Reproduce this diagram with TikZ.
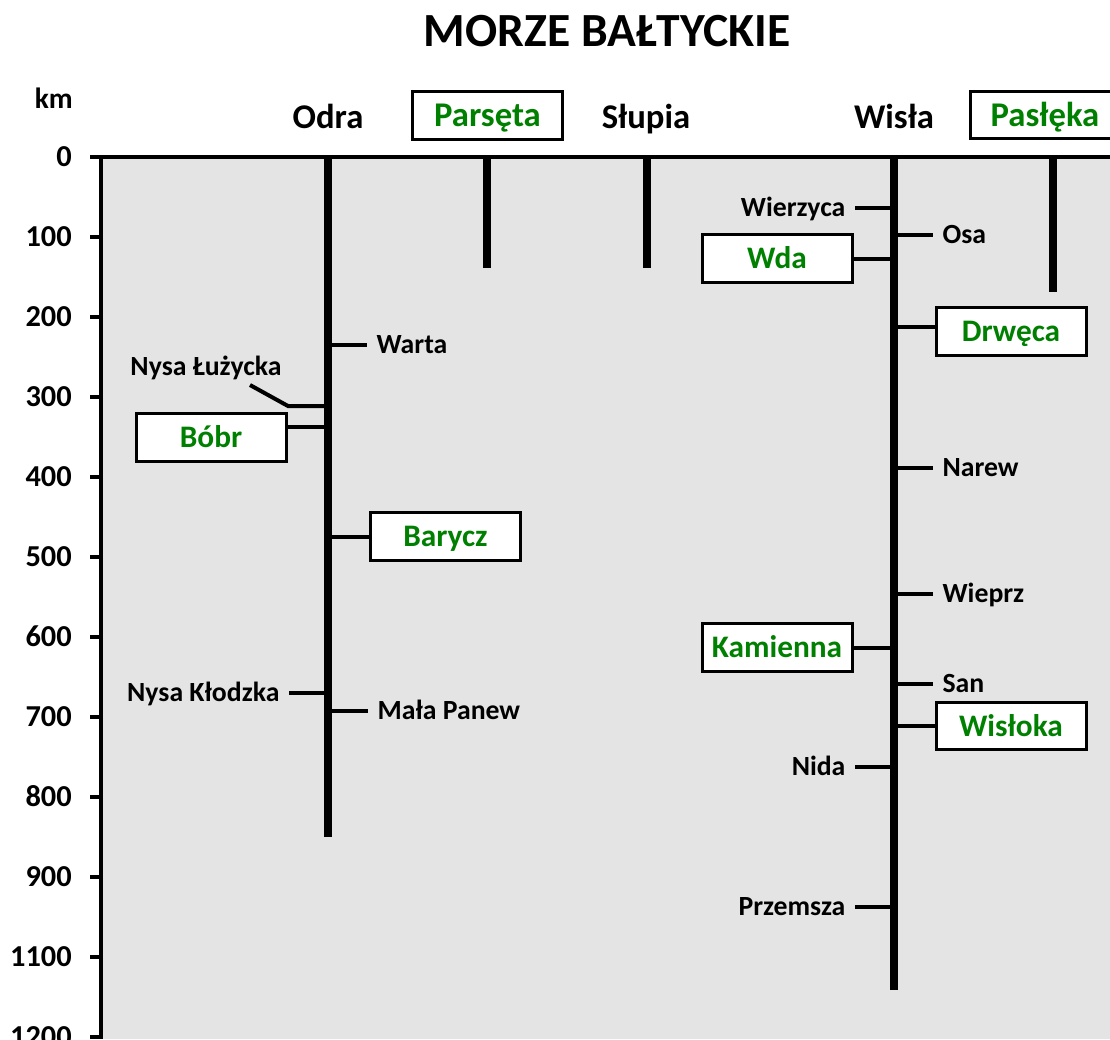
\documentclass[tikz,border=0pt]{standalone}
\usepackage{fontspec}
\setmainfont{Carlito}
\definecolor{bggray}{HTML}{E4E4E4}
\definecolor{rgreen}{HTML}{008000}
\begin{document}
\begin{tikzpicture}[x=0.75pt,y=-0.75pt,
  river/.style={line width=6pt},
  trib/.style={line width=3pt},
  axisline/.style={line width=3pt},
  titlefont/.style={font=\fontsize{35.7}{40}\selectfont\bfseries, inner sep=0pt, text height=22.8pt, text depth=0pt},
  rname/.style={font=\fontsize{26}{30}\selectfont\bfseries, inner sep=0pt, text height=16.6pt, text depth=0pt},
  ticklbl/.style={font=\fontsize{22.8}{26}\selectfont\bfseries, inner sep=0pt, text height=14.5pt, text depth=0pt, anchor=east},
  kmlbl/.style={ticklbl, font=\fontsize{22}{26}\selectfont\bfseries},
  lbl/.style={font=\fontsize{20.8}{24}\selectfont\bfseries, inner ysep=0pt, inner xsep=7pt, text height=13.3pt, text depth=0pt},
  lblR/.style={lbl, anchor=west},
  lblL/.style={lbl, anchor=east},
  rbox/.style={draw, line width=2.25pt, fill=white, text=rgreen, font=\fontsize{26}{30}\selectfont\bfseries,
    inner sep=0pt, text height=16.6pt, text depth=0pt, minimum width=112.5pt, minimum height=35.5pt},
  rboxS/.style={rbox, font=\fontsize{23.5}{28}\selectfont\bfseries, text height=15pt},
]
\useasboundingbox (0,0) rectangle (1110,1039);
\clip (0,0) rectangle (1110,1039);
\fill[white] (0,0) rectangle (1110,1039);
% background
\fill[bggray] (101,157) rectangle (1110,1039);

% title
\node[titlefont] (title) at (607,31) {MORZE BAŁTYCKIE};

% km axis
\node[kmlbl] (km) at (73,99) {km};
\draw[axisline] (90,157) -- (1110,157);
\draw[axisline] (101,157) -- (101,1039);
\foreach \v/\t [count=\i from 0] in {0/0,100/100,200/200,300/300,400/400,500/500,600/600,700/700,800/800,900/900,1000/1100,1100/1200}{
  \draw[axisline] (90,157+0.8*\v) -- (101,157+0.8*\v);
  \node[ticklbl] (tick\i) at (72,157+0.8*\v) {\t};
}

% top river names
\node[rname] (odraN) at (328,117) {Odra};
\node[rbox] (parseta) at (487.5,115.5) {Parsęta};
\node[rname] (slupiaN) at (646,117) {Słupia};
\node[rname] (wislaN) at (894,117) {Wisła};
\node[rbox] (pasleka) at (1045,115) {Pasłęka};

% main rivers
\coordinate (odraTop) at (328,157);   \coordinate (odraEnd) at (328,837);
\coordinate (parsTop) at (487,157);   \coordinate (parsEnd) at (487,268);
\coordinate (slupTop) at (647,157);   \coordinate (slupEnd) at (647,268);
\coordinate (wislTop) at (894,157);   \coordinate (wislEnd) at (894,990);
\coordinate (paslTop) at (1053,157);  \coordinate (paslEnd) at (1053,292);
\draw[river] (odraTop) -- (odraEnd);
\draw[river] (parsTop) -- (parsEnd);
\draw[river] (slupTop) -- (slupEnd);
\draw[river] (wislTop) -- (wislEnd);
\draw[river] (paslTop) -- (paslEnd);

% Odra tributaries
\coordinate (oWarta) at (328,345);
\node[lblR] (warta) at (367,345) {Warta};
\draw[trib] (oWarta) -- (warta.west);

\coordinate (oNysaL) at (328,406);
\coordinate (nysaLbend) at (288,406);
\coordinate (nysaLend) at (250,385);
\node[lbl] (nysaL) at (206,367) {Nysa Łużycka};
\draw[trib] (oNysaL) -- (nysaLbend) -- (nysaLend);

\coordinate (oBobr) at (328,427);
\node[rboxS] (bobr) at (211,437.5) {Bóbr};
\draw[trib] (oBobr) -- (oBobr -| bobr.east);

\coordinate (oBarycz) at (328,537);
\node[rboxS] (barycz) at (445.5,536.5) {Barycz};
\draw[trib] (oBarycz) -- (oBarycz -| barycz.west);

\coordinate (oNysaK) at (328,693);
\node[lblL] (nysaK) at (289,693) {Nysa Kłodzka};
\draw[trib] (oNysaK) -- (nysaK.east);

\coordinate (oMala) at (328,711);
\node[lblR] (mala) at (368,711) {Mała Panew};
\draw[trib] (oMala) -- (mala.west);

% Wisla tributaries
\coordinate (wWierz) at (894,208);
\node[lblL] (wierz) at (855,208) {Wierzyca};
\draw[trib] (wWierz) -- (wierz.east);

\coordinate (wOsa) at (894,235);
\node[lblR] (osa) at (933,235) {Osa};
\draw[trib] (wOsa) -- (osa.west);

\coordinate (wWda) at (894,259);
\node[rboxS] (wda) at (777,258.5) {Wda};
\draw[trib] (wWda) -- (wWda -| wda.east);

\coordinate (wDrweca) at (894,327);
\node[rboxS] (drweca) at (1011,331.5) {Drwęca};
\draw[trib] (wDrweca) -- (wDrweca -| drweca.west);

\coordinate (wNarew) at (894,468);
\node[lblR] (narew) at (933,468) {Narew};
\draw[trib] (wNarew) -- (narew.west);

\coordinate (wWieprz) at (894,594);
\node[lblR] (wieprz) at (933,594) {Wieprz};
\draw[trib] (wWieprz) -- (wieprz.west);

\coordinate (wKam) at (894,648);
\node[rboxS] (kamienna) at (777,647.5) {Kamienna};
\draw[trib] (wKam) -- (wKam -| kamienna.east);

\coordinate (wSan) at (894,684);
\node[lblR] (san) at (933,684) {San};
\draw[trib] (wSan) -- (san.west);

\coordinate (wWisloka) at (894,726);
\node[rboxS] (wisloka) at (1011,726) {Wisłoka};
\draw[trib] (wWisloka) -- (wWisloka -| wisloka.west);

\coordinate (wNida) at (894,767);
\node[lblL] (nida) at (855,767) {Nida};
\draw[trib] (wNida) -- (nida.east);

\coordinate (wPrzem) at (894,907);
\node[lblL] (przem) at (855,907) {Przemsza};
\draw[trib] (wPrzem) -- (przem.east);
\end{tikzpicture}
\end{document}
